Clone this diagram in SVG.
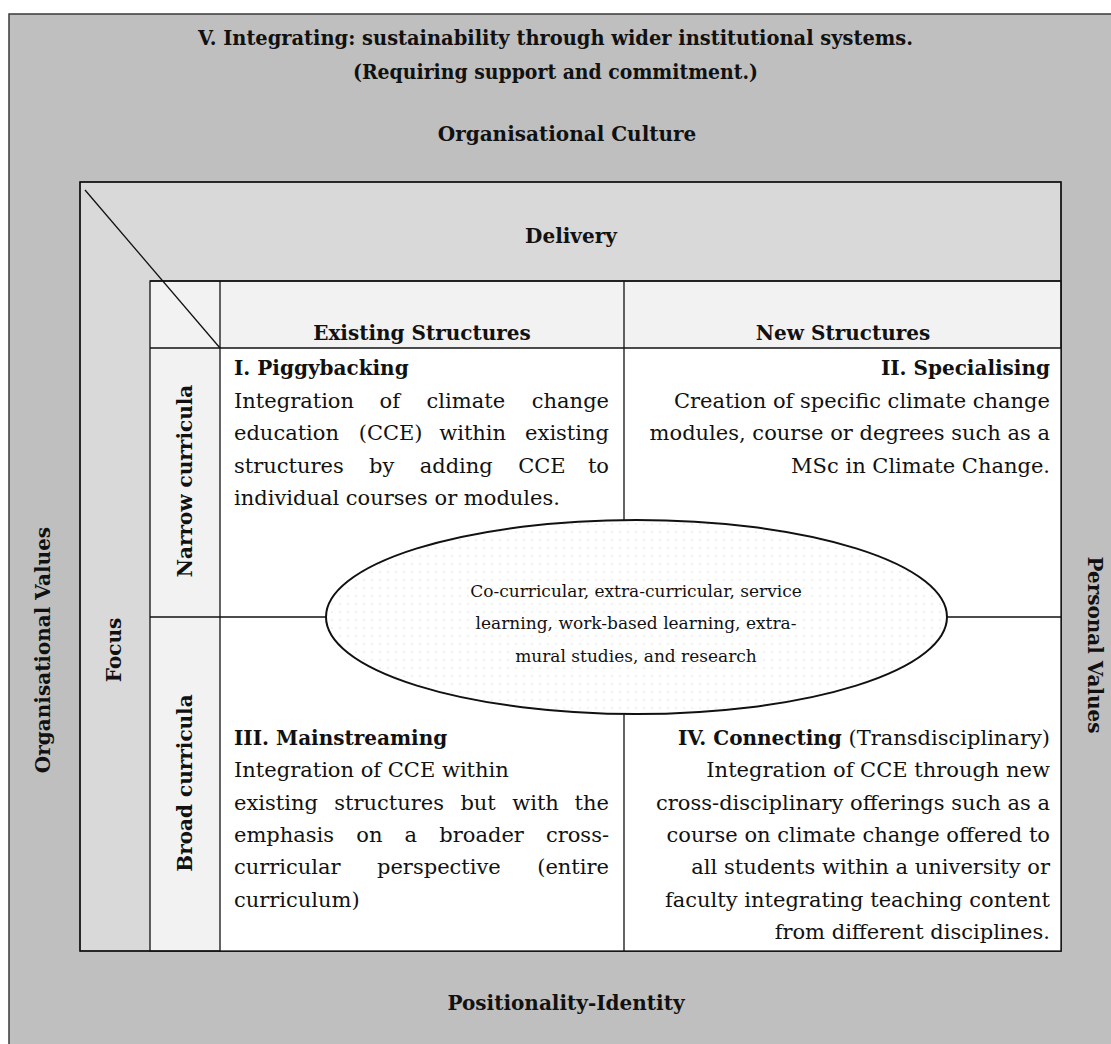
<svg xmlns="http://www.w3.org/2000/svg" width="1111" height="1044" viewBox="0 0 1111 1044">
<defs>
<style>
text{font-family:"DejaVu Serif","Liberation Serif",serif;fill:#111;}
.b{font-weight:bold;font-size:20px;}
.t{font-size:21px;}
.e{font-size:17px;}
.ln{stroke:#111;stroke-width:1.3;fill:none;}
.m{text-anchor:middle;}
.r{text-anchor:end;}
</style>
<pattern id="dots" width="8" height="8" patternUnits="userSpaceOnUse">
<rect width="8" height="8" fill="#ffffff"/>
<circle cx="4" cy="4" r="0.6" fill="#c4c4c4"/>
</pattern>
</defs>

<g id="outer-frame">
<rect x="9" y="14" width="1120" height="1050" fill="#bfbfbf" stroke="#3a3a3a" stroke-width="1.5"/>
<text class="b m" x="555.5" y="45" textLength="715" lengthAdjust="spacingAndGlyphs">V. Integrating: sustainability through wider institutional systems.</text>
<text class="b m" x="555.5" y="79" textLength="405" lengthAdjust="spacingAndGlyphs">(Requiring support and commitment.)</text>
<text class="b m" x="567" y="141">Organisational Culture</text>
<text class="b m" x="566" y="1010">Positionality-Identity</text>
<text class="b m" transform="translate(50,650) rotate(-90)">Organisational Values</text>
<text class="b m" transform="translate(1088,645) rotate(90)">Personal Values</text>
</g>

<g id="delivery">
<rect x="80" y="182" width="981" height="769" fill="#d9d9d9" stroke="#111" stroke-width="1.3"/>
<text class="b m" x="571" y="243">Delivery</text>
<text class="b m" transform="translate(121,650) rotate(-90)">Focus</text>
</g>

<g id="table">
<rect x="150" y="281" width="911" height="670" fill="#f2f2f2" stroke="#111" stroke-width="1.3"/>
<rect x="220" y="348" width="841" height="603" fill="#ffffff"/>
<text class="b m" x="422" y="340">Existing Structures</text>
<text class="b m" x="843" y="340">New Structures</text>
<text class="b m" transform="translate(192,481) rotate(-90)">Narrow curricula</text>
<text class="b m" transform="translate(192,783) rotate(-90)">Broad curricula</text>
</g>

<g id="connectors">
<line class="ln" x1="150" y1="281" x2="1061" y2="281"/>
<line class="ln" x1="150" y1="348" x2="1061" y2="348"/>
<line class="ln" x1="220" y1="281" x2="220" y2="951"/>
<line class="ln" x1="624" y1="281" x2="624" y2="951"/>
<line class="ln" x1="150" y1="617" x2="1061" y2="617"/>
<line class="ln" x1="85" y1="190" x2="220" y2="348"/>
<rect x="80" y="182" width="981" height="769" class="ln"/>
</g>

<g id="cell-piggybacking">
<text class="b" x="234" y="375">I. Piggybacking</text>
<text class="t" y="408"><tspan x="234">Integration</tspan><tspan x="379.6">of</tspan><tspan x="426.6">climate</tspan></text>
<text class="t r" x="609" y="408">change</text>
<text class="t" y="440"><tspan x="234">education</tspan><tspan x="358.7">(CCE)</tspan><tspan x="439.2">within</tspan></text>
<text class="t r" x="609" y="440">existing</text>
<text class="t" y="473"><tspan x="234">structures</tspan><tspan x="369.1">by</tspan><tspan x="419.7">adding</tspan><tspan x="518.2">CCE</tspan></text>
<text class="t r" x="609" y="473">to</text>
<text class="t" x="234" y="505">individual courses or modules.</text>
</g>

<g id="cell-specialising">
<text class="b r" x="1050" y="375">II. Specialising</text>
<text class="t r" x="1050" y="408">Creation of specific climate change</text>
<text class="t r" x="1050" y="440">modules, course or degrees such as a</text>
<text class="t r" x="1050" y="473">MSc in Climate Change.</text>
</g>

<g id="cell-mainstreaming">
<text class="b" x="234" y="745">III. Mainstreaming</text>
<text class="t" x="234" y="777">Integration of CCE within</text>
<text class="t" y="810"><tspan x="234">existing</tspan><tspan x="334.3">structures</tspan><tspan x="460.4">but</tspan><tspan x="512.2">with</tspan></text>
<text class="t r" x="609" y="810">the</text>
<text class="t" y="842"><tspan x="234">emphasis</tspan><tspan x="356.3">on</tspan><tspan x="404.6">a</tspan><tspan x="439.3">broader</tspan></text>
<text class="t r" x="609" y="842">cross-</text>
<text class="t" y="874"><tspan x="234">curricular</tspan><tspan x="377">perspective</tspan></text>
<text class="t r" x="609" y="874">(entire</text>
<text class="t" x="234" y="907">curriculum)</text>
</g>

<g id="cell-connecting">
<text class="t r" x="1050" y="745"><tspan class="b">IV. Connecting</tspan> (Transdisciplinary)</text>
<text class="t r" x="1050" y="777">Integration of CCE through new</text>
<text class="t r" x="1050" y="810">cross-disciplinary offerings such as a</text>
<text class="t r" x="1050" y="842">course on climate change offered to</text>
<text class="t r" x="1050" y="874">all students within a university or</text>
<text class="t r" x="1050" y="907">faculty integrating teaching content</text>
<text class="t r" x="1050" y="939">from different disciplines.</text>
</g>

<g id="co-curricular">
<ellipse cx="636.5" cy="617" rx="310.5" ry="97" fill="url(#dots)" stroke="#111" stroke-width="2"/>
<text class="e m" x="636" y="597">Co-curricular, extra-curricular, service</text>
<text class="e m" x="636" y="629">learning, work-based learning, extra-</text>
<text class="e m" x="636" y="662">mural studies, and research</text>
</g>
</svg>
